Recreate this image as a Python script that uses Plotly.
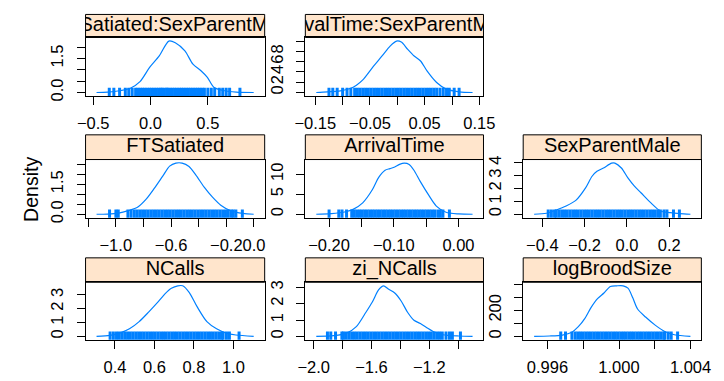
import plotly.graph_objects as go

W, H = 724, 381
BLUE = "#0080FF"
STRIP = "#FFE5CC"
FONT = "Liberation Sans, Arial, Helvetica, sans-serif"
MINUS = "\u2212"

names = ["FTSatiated:SexParentMale", "ArrivalTime:SexParentMale",
         "FTSatiated", "ArrivalTime", "SexParentMale",
         "NCalls", "zi_NCalls", "logBroodSize"]

# ---- density curves (x, density) ----
dx_ft_sex = [-0.471, -0.373, -0.26, -0.176, -0.092, -0.008, 0.076, 0.16, 0.216, 0.30, 0.37, 0.44, 0.496, 0.552, 0.636, 0.748, 0.90]
dy_ft_sex = [0.0, 0.015, 0.087, 0.189, 0.48, 1.106, 1.615, 2.27, 2.197, 1.834, 1.251, 0.96, 0.669, 0.233, 0.087, 0.015, 0.0]

dx_at_sex = [-0.1482, -0.1276, -0.1042, -0.0866, -0.0748, -0.0631, -0.0455, -0.0279, -0.0132, -0.0015, 0.0073, 0.0191, 0.0308, 0.0425, 0.0543, 0.0719, 0.0895, 0.113, 0.1376]
dy_at_sex = [0.0, 0.13, 0.32, 0.77, 1.42, 2.45, 4.84, 7.10, 9.03, 10.0, 9.81, 8.39, 7.10, 6.13, 4.19, 1.94, 0.65, 0.13, 0.0]

dx_ft = [-1.139, -1.06, -0.98, -0.91, -0.84, -0.78, -0.72, -0.66, -0.61, -0.565, -0.52, -0.47, -0.42, -0.36, -0.30, -0.24, -0.17, -0.08, -0.002]
dy_ft = [0.0, 0.01, 0.06, 0.18, 0.36, 0.75, 1.30, 1.90, 2.40, 2.55, 2.55, 2.38, 1.95, 1.35, 0.85, 0.45, 0.18, 0.04, 0.0]

dx_at = [-0.2198, -0.1975, -0.1777, -0.1629, -0.148, -0.1332, -0.1233, -0.1134, -0.1059, -0.0985, -0.0911, -0.0837, -0.0762, -0.0688, -0.0589, -0.0465, -0.0342, -0.0193, 0.0005, 0.0218]
dy_at = [0.0, 0.16, 0.49, 1.22, 2.85, 6.10, 9.19, 10.98, 11.38, 11.79, 12.44, 12.76, 12.44, 10.98, 8.13, 4.88, 2.03, 0.49, 0.08, 0.0]

dx_sex = [-0.4385, -0.38, -0.3338, -0.2877, -0.2415, -0.1954, -0.1646, -0.1415, -0.1108, -0.0723, -0.0569, -0.0262, 0.0046, 0.0354, 0.0662, 0.1123, 0.1585, 0.2046, 0.2508, 0.30]
dy_sex = [0.0, 0.077, 0.333, 0.641, 1.077, 2.05, 2.95, 3.33, 3.59, 3.97, 3.97, 3.59, 2.82, 2.18, 1.67, 0.90, 0.256, 0.128, 0.05, 0.0]

dx_nc = [0.3068, 0.3755, 0.4245, 0.4736, 0.5226, 0.5717, 0.6207, 0.6534, 0.6861, 0.7188, 0.7433, 0.776, 0.8169, 0.8659, 0.915, 0.964, 1.013, 1.103]
dy_nc = [0.0, 0.071, 0.236, 0.544, 1.064, 1.773, 2.53, 3.07, 3.48, 3.66, 3.66, 3.19, 2.13, 1.064, 0.544, 0.236, 0.095, 0.0]

dx_zi = [-1.9823, -1.8603, -1.7716, -1.7051, -1.6386, -1.5942, -1.5499, -1.5166, -1.4834, -1.439, -1.3947, -1.3503, -1.306, -1.2616, -1.2173, -1.1729, -1.1064, -0.9956, -0.9002]
dy_zi = [0.0, 0.039, 0.197, 0.592, 1.479, 2.11, 2.86, 3.10, 2.90, 2.66, 2.17, 1.479, 0.986, 0.789, 0.533, 0.296, 0.099, 0.02, 0.0]

dx_bs = [0.995257, 0.996116, 0.996832, 0.997369, 0.997727, 0.998085, 0.998443, 0.998801, 0.999159, 0.999517, 0.999875, 1.000233, 1.000501, 1.00077, 1.001038, 1.001485, 1.002022, 1.002559, 1.003096, 1.003991]
dy_bs = [0.0, 2.5, 9.9, 32, 74, 136, 222, 289, 333, 383, 388, 388, 370, 296, 210, 148, 86, 37, 12, 0.0]

# ---- rug (sample positions, estimated) ----
rug_ft_sex = [-0.36, -0.32, -0.27, -0.22, -0.19, -0.16, -0.13, -0.11, -0.09, -0.07, -0.05, -0.03, -0.01, 0.01, 0.03, 0.05, 0.07, 0.09, 0.10, 0.12, 0.14, 0.15, 0.17, 0.19, 0.21, 0.23, 0.25, 0.27, 0.29, 0.31, 0.33, 0.35, 0.37, 0.39, 0.41, 0.43, 0.45, 0.47, 0.50, 0.53, 0.56, 0.60, 0.63, 0.66, 0.69, 0.78]
rug_at_sex = [-0.125, -0.118, -0.11, -0.1, -0.092, -0.085, -0.078, -0.073, -0.068, -0.063, -0.058, -0.053, -0.048, -0.043, -0.038, -0.033, -0.028, -0.023, -0.018, -0.013, -0.008, -0.003, 0.002, 0.007, 0.012, 0.017, 0.022, 0.027, 0.032, 0.037, 0.042, 0.047, 0.052, 0.057, 0.062, 0.067, 0.072, 0.078, 0.084, 0.09, 0.095, 0.104, 0.113]
rug_ft = [-1.045, -0.999, -0.982, -0.912, -0.889, -0.866, -0.846, -0.826, -0.806, -0.786, -0.766, -0.746, -0.726, -0.706, -0.686, -0.666, -0.646, -0.626, -0.606, -0.586, -0.566, -0.546, -0.526, -0.506, -0.486, -0.466, -0.446, -0.426, -0.406, -0.386, -0.366, -0.346, -0.326, -0.306, -0.286, -0.266, -0.246, -0.226, -0.206, -0.186, -0.165, -0.15, -0.131, -0.084]
rug_at = [-0.2, -0.185, -0.18, -0.173, -0.165, -0.161, -0.157, -0.153, -0.149, -0.145, -0.141, -0.137, -0.133, -0.129, -0.125, -0.121, -0.117, -0.113, -0.109, -0.105, -0.101, -0.097, -0.093, -0.089, -0.085, -0.081, -0.077, -0.073, -0.069, -0.065, -0.061, -0.057, -0.053, -0.049, -0.045, -0.041, -0.037, -0.032, -0.028, -0.024, -0.014]
rug_sex = [-0.372, -0.357, -0.342, -0.334, -0.321, -0.308, -0.295, -0.282, -0.269, -0.256, -0.243, -0.23, -0.217, -0.204, -0.191, -0.178, -0.165, -0.152, -0.139, -0.126, -0.113, -0.1, -0.087, -0.074, -0.061, -0.048, -0.035, -0.022, -0.009, 0.004, 0.017, 0.03, 0.043, 0.056, 0.069, 0.082, 0.095, 0.108, 0.121, 0.134, 0.147, 0.158, 0.175, 0.189, 0.22, 0.248]
rug_nc = [0.3755, 0.392, 0.408, 0.422, 0.436, 0.45, 0.464, 0.478, 0.492, 0.506, 0.52, 0.534, 0.548, 0.562, 0.576, 0.59, 0.604, 0.618, 0.632, 0.646, 0.66, 0.674, 0.688, 0.702, 0.716, 0.73, 0.744, 0.758, 0.772, 0.786, 0.8, 0.814, 0.828, 0.842, 0.856, 0.87, 0.884, 0.898, 0.912, 0.926, 0.94, 0.948, 0.965, 0.98, 1.029]
rug_zi = [-1.905, -1.882, -1.849, -1.805, -1.794, -1.775, -1.756, -1.737, -1.718, -1.699, -1.68, -1.661, -1.642, -1.623, -1.604, -1.585, -1.566, -1.547, -1.528, -1.509, -1.49, -1.471, -1.452, -1.433, -1.414, -1.395, -1.376, -1.357, -1.338, -1.319, -1.3, -1.281, -1.262, -1.243, -1.224, -1.205, -1.186, -1.167, -1.148, -1.129, -1.11, -1.084, -1.06, -1.04, -0.984]
rug_bs = [0.996743, 0.997011, 0.997369, 0.99755, 0.9977, 0.99785, 0.998, 0.99815, 0.9983, 0.99845, 0.9986, 0.99875, 0.9989, 0.99905, 0.9992, 0.99935, 0.9995, 0.99965, 0.9998, 0.99995, 1.0001, 1.00025, 1.0004, 1.00055, 1.0007, 1.00085, 1.001, 1.00115, 1.0013, 1.00145, 1.0016, 1.00175, 1.0019, 1.00205, 1.0022, 1.00235, 1.0025, 1.002559, 1.00275, 1.002917, 1.003275]

# ---- tick values and labels ----
xt_vals = [[-0.5, 0.0, 0.5],
           [-0.15, -0.10, -0.05, 0.0, 0.05, 0.10, 0.15],
           [-1.2, -1.0, -0.8, -0.6, -0.4, -0.2, 0.0],
           [-0.20, -0.15, -0.10, -0.05, 0.0],
           [-0.4, -0.2, 0.0, 0.2],
           [0.4, 0.6, 0.8, 1.0],
           [-2.0, -1.8, -1.6, -1.4, -1.2, -1.0],
           [0.996, 0.998, 1.000, 1.002, 1.004]]
xt_text = [[MINUS + "0.5", "0.0", "0.5"],
           [MINUS + "0.15", "", MINUS + "0.05", "", "0.05", "", "0.15"],
           ["", MINUS + "1.0", "", MINUS + "0.6", "", MINUS + "0.2", "0.0"],
           [MINUS + "0.20", "", MINUS + "0.10", "", "0.00"],
           [MINUS + "0.4", MINUS + "0.2", "0.0", "0.2"],
           ["0.4", "0.6", "0.8", "1.0"],
           [MINUS + "2.0", "", MINUS + "1.6", "", MINUS + "1.2", ""],
           ["0.996", "", "1.000", "", "1.004"]]
yt_vals = [[0, 0.5, 1.0, 1.5, 2.0],
           [0, 2, 4, 6, 8, 10],
           [0, 0.5, 1.0, 1.5, 2.0, 2.5],
           [0, 5, 10],
           [0, 1, 2, 3, 4],
           [0, 1, 2, 3],
           [0, 1, 2, 3],
           [0, 100, 200, 300, 400]]
yt_text = [["0.0", "", "", "1.5", ""],
           ["0", "2", "4", "6", "8", ""],
           ["0.0", "", "", "1.5", "", ""],
           ["0", "5", "10"],
           ["0", "1", "2", "3", "4"],
           ["0", "1", "2", "3"],
           ["0", "1", "2", "3"],
           ["0", "", "200", "", ""]]

curves_x = [dx_ft_sex, dx_at_sex, dx_ft, dx_at, dx_sex, dx_nc, dx_zi, dx_bs]
curves_y = [dy_ft_sex, dy_at_sex, dy_ft, dy_at, dy_sex, dy_nc, dy_zi, dy_bs]
rugs = [rug_ft_sex, rug_at_sex, rug_ft, rug_at, rug_sex, rug_nc, rug_zi, rug_bs]

# ---- layout geometry (pixels) ----
COLS = [(77, 262), (304, 488), (529, 713)]
ROWS = [(10.7, 34.3, 94.3), (134.0, 159.3, 219.0), (260.0, 285.0, 344.0)]
GRID = [(0, 0), (0, 1), (1, 0), (1, 1), (1, 2), (2, 0), (2, 1), (2, 2)]

fig = go.Figure()
layout = dict(width=W, height=H, margin=dict(l=0, r=0, t=0, b=0),
              paper_bgcolor="white", plot_bgcolor="white", showlegend=False,
              font=dict(family=FONT, color="black"))
shapes = []

def ax_name(kind, n):
    return kind + ("" if n == 1 else str(n))

for i, name in enumerate(names):
    r, c = GRID[i]
    x0, x1 = COLS[c]
    st, pt, pb = ROWS[r]
    a = i + 1
    s = i + 9
    xs, ys = curves_x[i], curves_y[i]
    xlo, xhi = min(xs), max(xs)
    dxr = xhi - xlo
    xr = [xlo - 0.07 * dxr, xhi + 0.07 * dxr]
    ylo_d, yhi_d = 0.0, max(ys)
    dyr = yhi_d - ylo_d
    yr = [ylo_d - 0.07 * dyr, yhi_d + 0.07 * dyr]
    ph = pb - pt
    rug_y = yr[0] + (3.5 / ph) * (yr[1] - yr[0])

    common = dict(showline=True, mirror=True, linecolor="black", linewidth=1,
                  ticks="outside", ticklen=8, tickwidth=1, tickcolor="black",
                  showgrid=False, zeroline=False,
                  tickfont=dict(family=FONT, size=16.5, color="black"))
    layout[ax_name("xaxis", a)] = dict(domain=[x0 / W, x1 / W], range=xr,
                                        anchor=ax_name("y", a), tickmode="array",
                                        tickvals=xt_vals[i], ticktext=xt_text[i],
                                        tickangle=0, ticklabelstandoff=4, **common)
    layout[ax_name("yaxis", a)] = dict(domain=[1 - pb / H, 1 - pt / H], range=yr,
                                        anchor=ax_name("x", a), tickmode="array",
                                        tickvals=yt_vals[i], ticktext=yt_text[i],
                                        tickangle=-90, ticklabelstandoff=7, **common)
    # strip axes
    layout[ax_name("xaxis", s)] = dict(domain=[x0 / W, x1 / W], range=[0, 1],
                                        anchor=ax_name("y", s), visible=False)
    layout[ax_name("yaxis", s)] = dict(domain=[1 - pt / H, 1 - st / H], range=[0, 1],
                                        anchor=ax_name("x", s), visible=False)
    shapes.append(dict(type="rect", xref=ax_name("x", s) + " domain",
                       yref=ax_name("y", s) + " domain", x0=0, x1=1, y0=0, y1=1,
                       fillcolor=STRIP, line=dict(color="black", width=1), layer="below"))

    fig.add_trace(go.Scatter(x=[0.5], y=[0.5], mode="text", text=[name],
                             textposition="middle center", cliponaxis=True,
                             textfont=dict(family=FONT, size=20, color="black"),
                             xaxis=ax_name("x", s), yaxis=ax_name("y", s),
                             hoverinfo="skip"))
    fig.add_trace(go.Scatter(x=rugs[i], y=[rug_y] * len(rugs[i]), mode="markers",
                             marker=dict(symbol="line-ns", size=7,
                                         line=dict(color=BLUE, width=3)),
                             xaxis=ax_name("x", a), yaxis=ax_name("y", a),
                             hoverinfo="skip"))
    fig.add_trace(go.Scatter(x=xs, y=ys, mode="lines",
                             line=dict(color=BLUE, width=1.2, shape="spline", smoothing=0.8),
                             xaxis=ax_name("x", a), yaxis=ax_name("y", a),
                             hoverinfo="skip"))

layout["shapes"] = shapes
layout["annotations"] = [dict(text="Density", x=20 / W, y=1 - 190 / H, xref="paper",
                              yref="paper", showarrow=False, textangle=-90,
                              font=dict(family=FONT, size=19.5, color="black"),
                              xanchor="center", yanchor="middle")]
fig.update_layout(**layout)
fig.write_html("out.html")
